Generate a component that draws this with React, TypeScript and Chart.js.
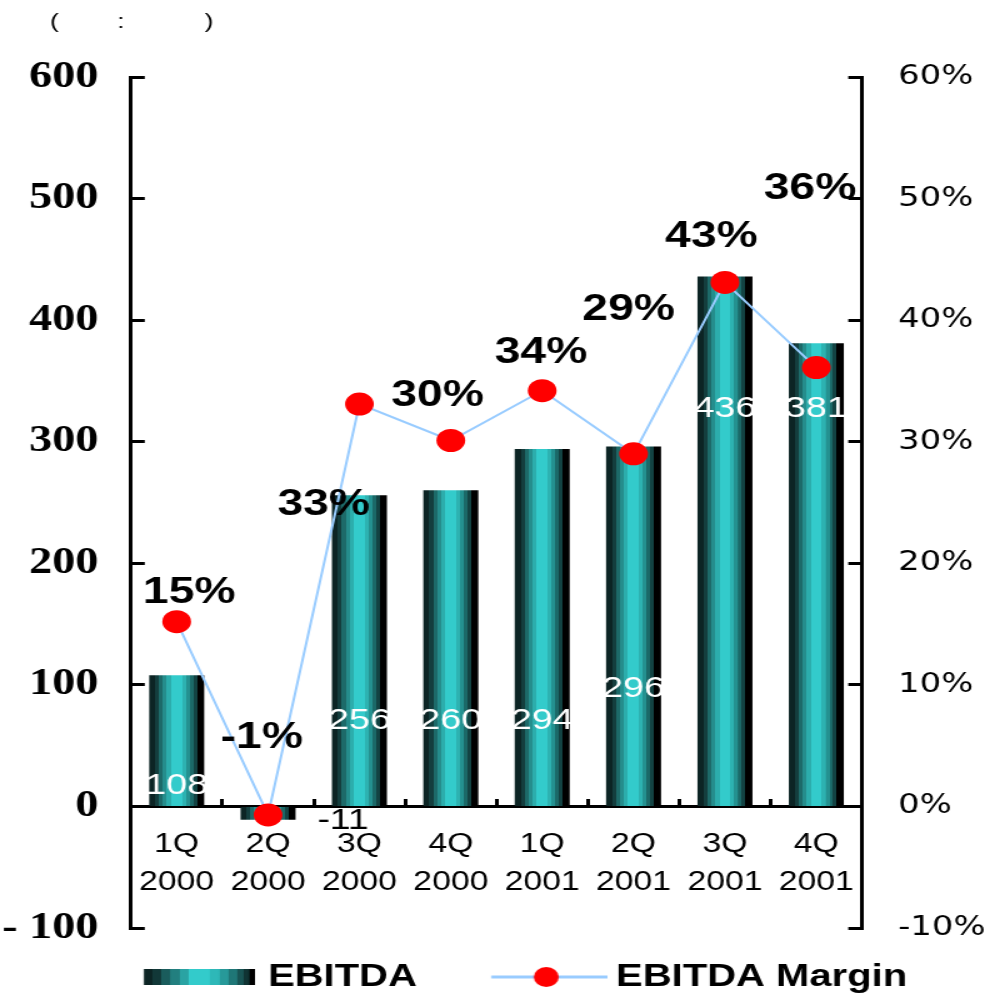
import React, { useEffect, useRef } from 'react';
import { Chart, registerables } from 'chart.js';

Chart.register(...registerables);

// ---- data ----
const categories: string[][] = [
  ['1Q', '2000'], ['2Q', '2000'], ['3Q', '2000'], ['4Q', '2000'],
  ['1Q', '2001'], ['2Q', '2001'], ['3Q', '2001'], ['4Q', '2001'],
];
const ebitda = [108, -11, 256, 260, 294, 296, 436, 381];
const margin = [15.2, -0.7, 33.1, 30.1, 34.2, 29.0, 43.1, 36.1];
const marginLabels = ['15%', '-1%', '33%', '30%', '34%', '29%', '43%', '36%'];
const leftTicks = { min: -100, max: 600, step: 100 };
const rightTicks = { min: -10, max: 60, step: 10 };
const seriesNames = ['EBITDA', 'EBITDA Margin'];
const subtitle = '(' + ' '.repeat(8) + ':' + ' '.repeat(11) + ')';

// ---- label placement (layout, not data) ----
const ebitdaLabelAt = [18.9, -9.9, 72.8, 72.8, 72.8, 98.7, 329, 329]; // left-axis units
const ebitdaLabelDx = [0, 60, 0, 0, 0, 0, 0, 0];
const ebitdaLabelColor = ['#ffffff', '#000000', '#ffffff', '#ffffff', '#ffffff', '#ffffff', '#ffffff', '#ffffff'];
const marginLabelOffset: [number, number][] = [
  [10, -31.5], [-5, -80], [-28.6, 97.5], [-10.6, -47.5],
  [-1, -41], [-4, -147], [-10.8, -48.5], [-5, -182],
];

// ---- styles ----
const CANVAS_W = 792;
const CANVAS_H = 995;
const DISPLAY_W = 990;
const SANS = "'Liberation Sans', Arial, sans-serif";
const SERIF = "'Liberation Serif', 'Times New Roman', serif";
const RIGHT = "'DejaVu Sans', sans-serif";
const LINE_COLOR = '#99CCFF';
const DOT_COLOR = '#FF0000';
const VALUE_FONT = 30;
const PCT_FONT = 37;

const barBands: [number, string][] = [
  [0.0, '#0c2424'], [0.11, '#143e3e'], [0.18, '#1d6a69'], [0.25, '#258d8c'],
  [0.32, '#2cadac'], [0.4, '#33cbcb'], [0.6, '#2db2b1'], [0.67, '#249190'],
  [0.74, '#1b6968'], [0.8, '#134343'], [0.87, '#000000'],
];
const legendBands: [number, string][] = [
  [0.0, '#0c2424'], [0.08, '#123838'], [0.16, '#1a5c5c'], [0.24, '#227f7f'],
  [0.32, '#2aa3a3'], [0.4, '#33cbcb'], [0.6, '#2eb8b8'], [0.68, '#279999'],
  [0.76, '#1f7777'], [0.84, '#185454'], [0.9, '#103434'], [0.95, '#000000'],
];

function bandGradient(ctx: CanvasRenderingContext2D, x0: number, x1: number, bands: [number, string][]) {
  const g = ctx.createLinearGradient(x0, 0, x1, 0);
  bands.forEach(([start, color], i) => {
    const end = i < bands.length - 1 ? bands[i + 1][0] : 1;
    g.addColorStop(start, color);
    g.addColorStop(Math.max(start, end - 0.001), color);
  });
  return g;
}

const BAR_PCT = 0.602;

function makeLegendImages() {
  const a = document.createElement('canvas');
  a.width = 143; a.height = 20;
  const actx = a.getContext('2d')!;
  const ax0 = 143 - 88.8;
  actx.fillStyle = bandGradient(actx, ax0, 143, legendBands);
  actx.fillRect(ax0, 2, 88.8, 16);

  const b = document.createElement('canvas');
  b.width = 150; b.height = 24;
  const bctx = b.getContext('2d')!;
  const bx0 = 150 - 92.8;
  bctx.strokeStyle = LINE_COLOR;
  bctx.lineWidth = 3;
  bctx.beginPath();
  bctx.moveTo(bx0, 12);
  bctx.lineTo(150, 12);
  bctx.stroke();
  bctx.fillStyle = DOT_COLOR;
  bctx.beginPath();
  bctx.arc(bx0 + 44, 12, 10, 0, Math.PI * 2);
  bctx.fill();
  return [a, b];
}

const labelPlugin = {
  id: 'customLabels',
  afterDatasetsDraw(chart: any) {
    const ctx: CanvasRenderingContext2D = chart.ctx;
    const barMeta = chart.getDatasetMeta(0);
    const lineMeta = chart.getDatasetMeta(1);
    const yS = chart.scales.y;
    ctx.save();
    ctx.textAlign = 'center';
    ctx.textBaseline = 'alphabetic';
    ctx.font = `${VALUE_FONT}px ${SANS}`;
    barMeta.data.forEach((el: any, i: number) => {
      ctx.fillStyle = ebitdaLabelColor[i];
      ctx.fillText(String(ebitda[i]), el.x + ebitdaLabelDx[i], yS.getPixelForValue(ebitdaLabelAt[i]) + 0.358 * VALUE_FONT);
    });
    ctx.font = `bold ${PCT_FONT}px ${SANS}`;
    ctx.fillStyle = '#000000';
    lineMeta.data.forEach((el: any, i: number) => {
      const [dx, dy] = marginLabelOffset[i];
      ctx.fillText(marginLabels[i], el.x + dx, el.y + dy + 0.358 * PCT_FONT);
    });
    ctx.restore();
  },
  afterDraw(chart: any) {
    const ctx: CanvasRenderingContext2D = chart.ctx;
    ctx.save();
    ctx.font = `21px ${SANS}`;
    ctx.fillStyle = '#000000';
    ctx.textAlign = 'left';
    ctx.textBaseline = 'middle';
    ctx.fillText(subtitle, 40, 22);
    ctx.restore();
  },
};

export default function App() {
  const canvasRef = useRef<HTMLCanvasElement | null>(null);

  useEffect(() => {
    const canvas = canvasRef.current;
    if (!canvas) return;
    const [imgBar, imgLine] = makeLegendImages();

    const barFill = (c: any) => {
      const chart = c.chart;
      const xs = chart.scales && chart.scales.x;
      if (!xs || !chart.chartArea || c.dataIndex === undefined) return '#33cccc';
      const cx = xs.getPixelForValue(c.dataIndex);
      const half = (xs.width / categories.length) * BAR_PCT / 2;
      return bandGradient(chart.ctx, cx - half, cx + half, barBands);
    };

    const chart = new Chart(canvas, {
      type: 'bar',
      data: {
        labels: categories,
        datasets: [
          {
            type: 'bar',
            label: seriesNames[0],
            data: ebitda,
            xAxisID: 'x',
            yAxisID: 'y',
            order: 1,
            backgroundColor: barFill,
            borderWidth: 0,
            barPercentage: BAR_PCT,
            categoryPercentage: 1,
          } as any,
          {
            type: 'line',
            label: seriesNames[1],
            data: margin,
            xAxisID: 'x',
            yAxisID: 'y1',
            order: 0,
            borderColor: LINE_COLOR,
            borderWidth: 2,
            pointRadius: 11.5,
            pointHoverRadius: 11.5,
            pointBackgroundColor: DOT_COLOR,
            pointBorderColor: DOT_COLOR,
            pointBorderWidth: 0,
            tension: 0,
            fill: false,
          } as any,
        ],
      },
      options: {
        responsive: false,
        animation: false,
        devicePixelRatio: 1,
        events: [],
        layout: { padding: { top: 77, bottom: -8, left: 0, right: 0 } },
        plugins: {
          title: { display: false },
          tooltip: { enabled: false },
          legend: {
            display: true,
            position: 'bottom',
            title: { display: true, text: ' ', font: { size: 1, lineHeight: 1 }, padding: { top: 20.8, bottom: 0 } },
            labels: {
              usePointStyle: true,
              pointStyleWidth: 132.1,
              padding: 11.2,
              color: '#000000',
              font: { family: SANS, size: 32, weight: 'bold' },
              generateLabels: () => [
                { text: seriesNames[0], pointStyle: imgBar, fillStyle: '#33cccc', strokeStyle: '#33cccc', lineWidth: 0, hidden: false, datasetIndex: 0, fontColor: '#000000' },
                { text: seriesNames[1], pointStyle: imgLine, fillStyle: DOT_COLOR, strokeStyle: DOT_COLOR, lineWidth: 0, hidden: false, datasetIndex: 1, fontColor: '#000000' },
              ] as any,
            },
          },
        },
        scales: {
          x: {
            type: 'category',
            axis: 'x',
            position: { y: 0 } as any,
            offset: true,
            grid: { display: true, drawOnChartArea: false, offset: true, tickLength: -9, tickWidth: 3, tickColor: '#000000' },
            border: { display: true, color: '#000000', width: 3 },
            ticks: {
              color: '#000000',
              font: { family: SANS, size: 27, lineHeight: 38 / 27 },
              padding: 28,
              maxRotation: 0,
              minRotation: 0,
              autoSkip: false,
            },
          },
          y: {
            type: 'linear',
            axis: 'y',
            position: 'left',
            min: leftTicks.min,
            max: leftTicks.max,
            ticks: {
              stepSize: leftTicks.step,
              color: '#000000',
              font: { family: SERIF, size: 37, weight: 'bold' },
              padding: 37,
              callback: (v: any) => (Number(v) < 0 ? '- ' + Math.abs(Number(v)) : String(v)),
            },
            grid: { display: true, drawOnChartArea: false, tickLength: -11, tickWidth: 3, tickColor: '#000000' },
            border: { display: true, color: '#000000', width: 3 },
            afterFit: (s: any) => { s.width = 104.8; },
          },
          y1: {
            type: 'linear',
            axis: 'y',
            position: 'right',
            min: rightTicks.min,
            max: rightTicks.max,
            ticks: {
              stepSize: rightTicks.step,
              color: '#000000',
              font: { family: RIGHT, size: 27 },
              padding: 40,
              callback: (v: any) => `${v}%`,
            },
            grid: { display: true, drawOnChartArea: false, tickLength: -11, tickWidth: 3, tickColor: '#000000' },
            border: { display: true, color: '#000000', width: 3 },
            afterFit: (s: any) => { s.width = 102.4; },
          },
        },
      } as any,
      plugins: [labelPlugin],
    });

    return () => chart.destroy();
  }, []);

  return (
    <div style={{ position: 'absolute', left: 0, top: 0, width: DISPLAY_W, height: CANVAS_H, background: '#ffffff' }}>
      <canvas
        ref={canvasRef}
        width={CANVAS_W}
        height={CANVAS_H}
        style={{ width: `${DISPLAY_W}px`, height: `${CANVAS_H}px`, display: 'block' }}
      />
    </div>
  );
}
